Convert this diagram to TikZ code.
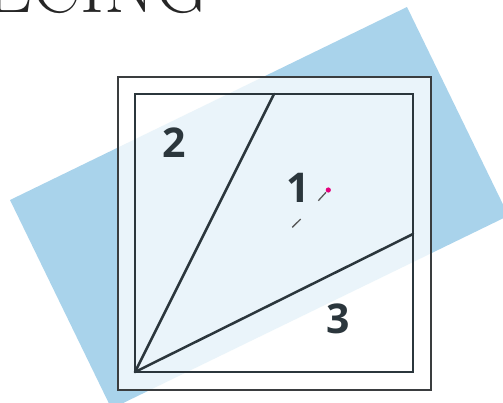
\documentclass[tikz,border=0pt]{standalone}
\usepackage{fontspec}
\newfontfamily\numfont{Open Sans}
\usepackage{xcolor}
\usepackage{tikz}
\usetikzlibrary{positioning,calc}
\definecolor{bandblue}{HTML}{A9D3EB}
\definecolor{ink}{HTML}{2B363C}
\definecolor{framegray}{HTML}{3A3D3F}
\definecolor{pinmag}{HTML}{E4007C}
\tikzset{
  band/.style={fill=bandblue, draw=none},
  frame/.style={draw=framegray, line width=1.2pt, fill=white, fill opacity=0.76},
  block/.style={draw=ink, line width=2.8pt},
  seam/.style={draw=ink, line width=2.5pt, line cap=round},
  num/.style={font=\numfont\bfseries\fontsize{41}{41}\selectfont, text=ink, inner sep=0pt},
  tick/.style={draw=black!65, line width=1.3pt},
  title/.style={font=\fontsize{73}{73}\selectfont, text=black!85, inner sep=0pt, anchor=base west},
}

\begin{document}
\begin{tikzpicture}[x=1pt, y=-1pt]
  \useasboundingbox (0,0) rectangle (503,402);
  \clip (0,0) rectangle (503,402);
  % heading, mostly cut off
  \node[title] (head) at (-14,12) {ECING};
  % rotated band behind the block
  \fill[band] (407,7) -- (10,200) -- (111.5,408.7) -- (508.5,215.7) -- cycle;
  % paper and block
  \path[frame] (118,77) rectangle (431,390);
  \coordinate (bl) at (135,372);
  \coordinate (tr) at (413,94);
  \coordinate (top) at (274,94);
  \coordinate (rgt) at (413,234);
  \draw[block] (bl) rectangle (tr);
  \draw[seam] (bl) -- (top);
  \draw[seam] (bl) -- (rgt);
  % piece numbers
  \node[num] (n1) at (298,188) {1};
  \node[num] (n2) at (174,143) {2};
  \node[num] (n3) at (338,319) {3};
  % pin marks
  \coordinate (pa) at (318.3,200.7);
  \coordinate (pb) at (326,192.3);
  \coordinate (pc) at (292.3,227.3);
  \coordinate (pd) at (300.7,219);
  \draw[tick] (pa) -- (pb);
  \draw[tick] (pc) -- (pd);
  \fill[pinmag] (328.3,190) circle (2.6);
\end{tikzpicture}
\end{document}
